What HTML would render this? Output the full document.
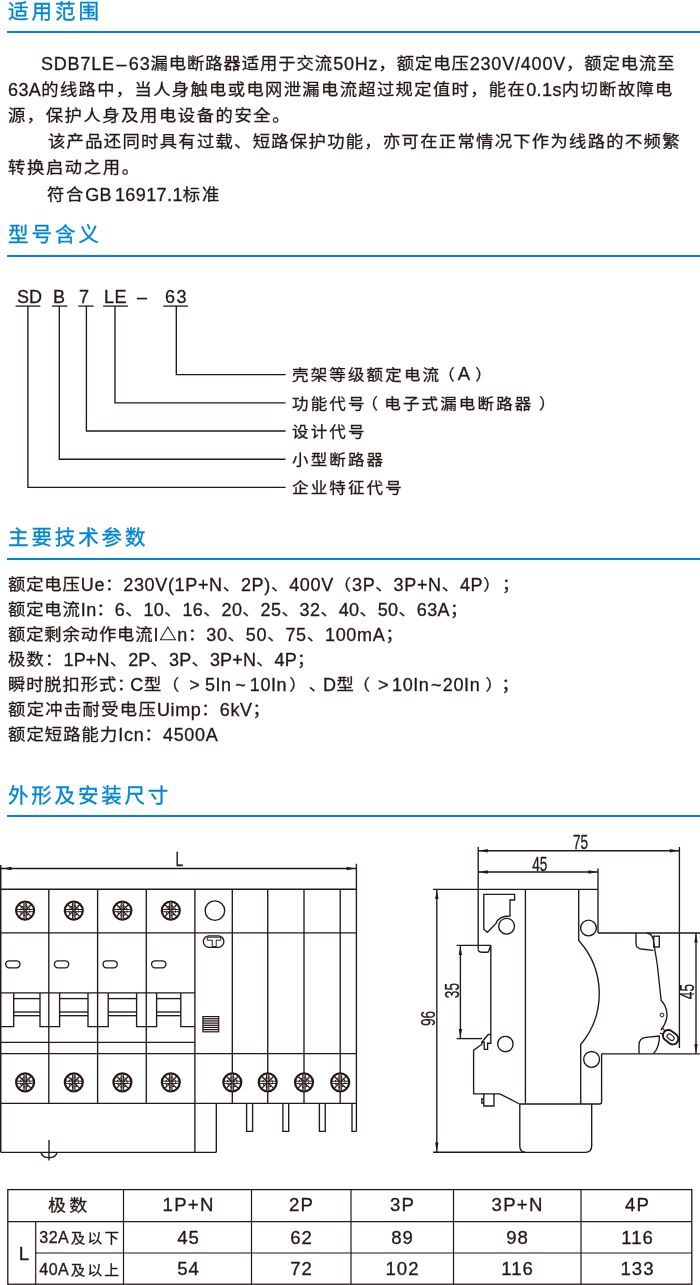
<!DOCTYPE html>
<html lang="zh-CN">
<head>
<meta charset="utf-8">
<title>SDB7LE-63 漏电断路器</title>
<style>
html,body{margin:0;padding:0;background:#fff}
body{position:relative;width:700px;height:1285px;overflow:hidden;color:#231815;font-family:"Liberation Sans","Noto Sans CJK SC",sans-serif}
.t{position:absolute;white-space:nowrap;line-height:24px;height:24px;will-change:transform;-webkit-text-stroke:0.3px #231815}
.h{color:#0086d1;-webkit-text-stroke:0.35px #0086d1}
.c{text-align:center}
.sc{margin-left:0.6px}
.rule{position:absolute;left:7px;right:0;height:2px;background:#0086d1}
svg{position:absolute;left:0;top:0;will-change:transform}
svg *{fill:none;stroke:#231815;stroke-width:1.35}
svg .f{fill:#231815;stroke:none}
svg .w{fill:#fff;stroke:none}
svg text.d{fill:#231815;stroke:#231815;stroke-width:0.3px;font-family:"Liberation Sans",sans-serif}
</style>
</head>
<body>
<svg width="700" height="1285" viewBox="0 0 700 1285">
<line x1="15.6" y1="306.1" x2="40.3" y2="306.1" style="stroke-width:1.3"/>
<line x1="51.9" y1="306.1" x2="67.4" y2="306.1" style="stroke-width:1.3"/>
<line x1="78.3" y1="306.1" x2="93.6" y2="306.1" style="stroke-width:1.3"/>
<line x1="103.1" y1="306.1" x2="127.9" y2="306.1" style="stroke-width:1.3"/>
<line x1="163.3" y1="306.1" x2="187.9" y2="306.1" style="stroke-width:1.3"/>
<polyline points="27.9,306 27.9,487.4 285.6,487.4"/>
<polyline points="59.3,306 59.3,459.2 285.6,459.2"/>
<polyline points="86.4,306 86.4,431 285.6,431"/>
<polyline points="115,306 115,402.8 285.6,402.8"/>
<polyline points="176.3,306 176.3,374.6 285.6,374.6"/>
<line x1="0.7" y1="865" x2="0.7" y2="1152.3" style="stroke-width:1.5"/>
<line x1="356.4" y1="863.8" x2="356.4" y2="1131.4"/>
<line x1="0.7" y1="868.5" x2="356.4" y2="868.5"/>
<polygon class="f" points="2.5,868.5 11.5,866.8 11.5,870.2"/>
<polygon class="f" points="355.6,868.5 346.6,866.8 346.6,870.2"/>
<line x1="0.7" y1="889.2" x2="356.4" y2="889.2"/>
<line x1="0.7" y1="932.8" x2="356.4" y2="932.8"/>
<line x1="0.7" y1="992.9" x2="194.9" y2="992.9"/>
<line x1="0.7" y1="1042.3" x2="194.9" y2="1042.3"/>
<line x1="0.7" y1="1053.6" x2="356.4" y2="1053.6"/>
<line x1="0.7" y1="1103.4" x2="356.4" y2="1103.4"/>
<line x1="0.7" y1="1152.3" x2="216.3" y2="1152.3"/>
<line x1="216.3" y1="1103.4" x2="216.3" y2="1152.3"/>
<line x1="48.8" y1="889.2" x2="48.8" y2="1103.4"/>
<line x1="97.6" y1="889.2" x2="97.6" y2="1103.4"/>
<line x1="146.3" y1="889.2" x2="146.3" y2="1103.4"/>
<line x1="194.9" y1="889.2" x2="194.9" y2="1152.3"/>
<line x1="232.3" y1="889.2" x2="232.3" y2="1103.4"/>
<line x1="267.7" y1="889.2" x2="267.7" y2="1103.4"/>
<line x1="304.0" y1="889.2" x2="304.0" y2="1103.4"/>
<line x1="340.2" y1="889.2" x2="340.2" y2="1103.4"/>
<circle cx="25.1" cy="910.6" r="9.0" style="stroke-width:2.2"/>
<line x1="25.1" y1="902.4" x2="25.1" y2="918.8000000000001" style="stroke-width:2.4;stroke:#8d8683"/>
<line x1="23.85" y1="902.4" x2="23.85" y2="918.8000000000001" style="stroke-width:0.9"/>
<line x1="26.35" y1="902.4" x2="26.35" y2="918.8000000000001" style="stroke-width:0.9"/>
<line x1="16.900000000000002" y1="909.5" x2="33.3" y2="909.5" style="stroke-width:0.95"/>
<line x1="16.900000000000002" y1="911.7" x2="33.3" y2="911.7" style="stroke-width:0.95"/>
<line x1="26.16" y1="911.66" x2="30.90" y2="916.40" style="stroke-width:1.3"/>
<line x1="24.04" y1="911.66" x2="19.30" y2="916.40" style="stroke-width:1.3"/>
<line x1="24.04" y1="909.54" x2="19.30" y2="904.80" style="stroke-width:1.3"/>
<line x1="26.16" y1="909.54" x2="30.90" y2="904.80" style="stroke-width:1.3"/>
<circle cx="25.1" cy="910.6" r="4.8" style="stroke-width:1.1;stroke-dasharray:1.9 1.87"/>
<circle cx="25.1" cy="1082.3" r="9.0" style="stroke-width:2.2"/>
<line x1="25.1" y1="1074.1" x2="25.1" y2="1090.5" style="stroke-width:2.4;stroke:#8d8683"/>
<line x1="23.85" y1="1074.1" x2="23.85" y2="1090.5" style="stroke-width:0.9"/>
<line x1="26.35" y1="1074.1" x2="26.35" y2="1090.5" style="stroke-width:0.9"/>
<line x1="16.900000000000002" y1="1081.2" x2="33.3" y2="1081.2" style="stroke-width:0.95"/>
<line x1="16.900000000000002" y1="1083.3999999999999" x2="33.3" y2="1083.3999999999999" style="stroke-width:0.95"/>
<line x1="26.16" y1="1083.36" x2="30.90" y2="1088.10" style="stroke-width:1.3"/>
<line x1="24.04" y1="1083.36" x2="19.30" y2="1088.10" style="stroke-width:1.3"/>
<line x1="24.04" y1="1081.24" x2="19.30" y2="1076.50" style="stroke-width:1.3"/>
<line x1="26.16" y1="1081.24" x2="30.90" y2="1076.50" style="stroke-width:1.3"/>
<circle cx="25.1" cy="1082.3" r="4.8" style="stroke-width:1.1;stroke-dasharray:1.9 1.87"/>
<circle cx="73.8" cy="910.6" r="9.0" style="stroke-width:2.2"/>
<line x1="73.8" y1="902.4" x2="73.8" y2="918.8000000000001" style="stroke-width:2.4;stroke:#8d8683"/>
<line x1="72.55" y1="902.4" x2="72.55" y2="918.8000000000001" style="stroke-width:0.9"/>
<line x1="75.05" y1="902.4" x2="75.05" y2="918.8000000000001" style="stroke-width:0.9"/>
<line x1="65.6" y1="909.5" x2="82.0" y2="909.5" style="stroke-width:0.95"/>
<line x1="65.6" y1="911.7" x2="82.0" y2="911.7" style="stroke-width:0.95"/>
<line x1="74.86" y1="911.66" x2="79.60" y2="916.40" style="stroke-width:1.3"/>
<line x1="72.74" y1="911.66" x2="68.00" y2="916.40" style="stroke-width:1.3"/>
<line x1="72.74" y1="909.54" x2="68.00" y2="904.80" style="stroke-width:1.3"/>
<line x1="74.86" y1="909.54" x2="79.60" y2="904.80" style="stroke-width:1.3"/>
<circle cx="73.8" cy="910.6" r="4.8" style="stroke-width:1.1;stroke-dasharray:1.9 1.87"/>
<circle cx="73.8" cy="1082.3" r="9.0" style="stroke-width:2.2"/>
<line x1="73.8" y1="1074.1" x2="73.8" y2="1090.5" style="stroke-width:2.4;stroke:#8d8683"/>
<line x1="72.55" y1="1074.1" x2="72.55" y2="1090.5" style="stroke-width:0.9"/>
<line x1="75.05" y1="1074.1" x2="75.05" y2="1090.5" style="stroke-width:0.9"/>
<line x1="65.6" y1="1081.2" x2="82.0" y2="1081.2" style="stroke-width:0.95"/>
<line x1="65.6" y1="1083.3999999999999" x2="82.0" y2="1083.3999999999999" style="stroke-width:0.95"/>
<line x1="74.86" y1="1083.36" x2="79.60" y2="1088.10" style="stroke-width:1.3"/>
<line x1="72.74" y1="1083.36" x2="68.00" y2="1088.10" style="stroke-width:1.3"/>
<line x1="72.74" y1="1081.24" x2="68.00" y2="1076.50" style="stroke-width:1.3"/>
<line x1="74.86" y1="1081.24" x2="79.60" y2="1076.50" style="stroke-width:1.3"/>
<circle cx="73.8" cy="1082.3" r="4.8" style="stroke-width:1.1;stroke-dasharray:1.9 1.87"/>
<circle cx="122.4" cy="910.6" r="9.0" style="stroke-width:2.2"/>
<line x1="122.4" y1="902.4" x2="122.4" y2="918.8000000000001" style="stroke-width:2.4;stroke:#8d8683"/>
<line x1="121.15" y1="902.4" x2="121.15" y2="918.8000000000001" style="stroke-width:0.9"/>
<line x1="123.65" y1="902.4" x2="123.65" y2="918.8000000000001" style="stroke-width:0.9"/>
<line x1="114.2" y1="909.5" x2="130.6" y2="909.5" style="stroke-width:0.95"/>
<line x1="114.2" y1="911.7" x2="130.6" y2="911.7" style="stroke-width:0.95"/>
<line x1="123.46" y1="911.66" x2="128.20" y2="916.40" style="stroke-width:1.3"/>
<line x1="121.34" y1="911.66" x2="116.60" y2="916.40" style="stroke-width:1.3"/>
<line x1="121.34" y1="909.54" x2="116.60" y2="904.80" style="stroke-width:1.3"/>
<line x1="123.46" y1="909.54" x2="128.20" y2="904.80" style="stroke-width:1.3"/>
<circle cx="122.4" cy="910.6" r="4.8" style="stroke-width:1.1;stroke-dasharray:1.9 1.87"/>
<circle cx="122.4" cy="1082.3" r="9.0" style="stroke-width:2.2"/>
<line x1="122.4" y1="1074.1" x2="122.4" y2="1090.5" style="stroke-width:2.4;stroke:#8d8683"/>
<line x1="121.15" y1="1074.1" x2="121.15" y2="1090.5" style="stroke-width:0.9"/>
<line x1="123.65" y1="1074.1" x2="123.65" y2="1090.5" style="stroke-width:0.9"/>
<line x1="114.2" y1="1081.2" x2="130.6" y2="1081.2" style="stroke-width:0.95"/>
<line x1="114.2" y1="1083.3999999999999" x2="130.6" y2="1083.3999999999999" style="stroke-width:0.95"/>
<line x1="123.46" y1="1083.36" x2="128.20" y2="1088.10" style="stroke-width:1.3"/>
<line x1="121.34" y1="1083.36" x2="116.60" y2="1088.10" style="stroke-width:1.3"/>
<line x1="121.34" y1="1081.24" x2="116.60" y2="1076.50" style="stroke-width:1.3"/>
<line x1="123.46" y1="1081.24" x2="128.20" y2="1076.50" style="stroke-width:1.3"/>
<circle cx="122.4" cy="1082.3" r="4.8" style="stroke-width:1.1;stroke-dasharray:1.9 1.87"/>
<circle cx="170.8" cy="910.6" r="9.0" style="stroke-width:2.2"/>
<line x1="170.8" y1="902.4" x2="170.8" y2="918.8000000000001" style="stroke-width:2.4;stroke:#8d8683"/>
<line x1="169.55" y1="902.4" x2="169.55" y2="918.8000000000001" style="stroke-width:0.9"/>
<line x1="172.05" y1="902.4" x2="172.05" y2="918.8000000000001" style="stroke-width:0.9"/>
<line x1="162.60000000000002" y1="909.5" x2="179.0" y2="909.5" style="stroke-width:0.95"/>
<line x1="162.60000000000002" y1="911.7" x2="179.0" y2="911.7" style="stroke-width:0.95"/>
<line x1="171.86" y1="911.66" x2="176.60" y2="916.40" style="stroke-width:1.3"/>
<line x1="169.74" y1="911.66" x2="165.00" y2="916.40" style="stroke-width:1.3"/>
<line x1="169.74" y1="909.54" x2="165.00" y2="904.80" style="stroke-width:1.3"/>
<line x1="171.86" y1="909.54" x2="176.60" y2="904.80" style="stroke-width:1.3"/>
<circle cx="170.8" cy="910.6" r="4.8" style="stroke-width:1.1;stroke-dasharray:1.9 1.87"/>
<circle cx="170.8" cy="1082.3" r="9.0" style="stroke-width:2.2"/>
<line x1="170.8" y1="1074.1" x2="170.8" y2="1090.5" style="stroke-width:2.4;stroke:#8d8683"/>
<line x1="169.55" y1="1074.1" x2="169.55" y2="1090.5" style="stroke-width:0.9"/>
<line x1="172.05" y1="1074.1" x2="172.05" y2="1090.5" style="stroke-width:0.9"/>
<line x1="162.60000000000002" y1="1081.2" x2="179.0" y2="1081.2" style="stroke-width:0.95"/>
<line x1="162.60000000000002" y1="1083.3999999999999" x2="179.0" y2="1083.3999999999999" style="stroke-width:0.95"/>
<line x1="171.86" y1="1083.36" x2="176.60" y2="1088.10" style="stroke-width:1.3"/>
<line x1="169.74" y1="1083.36" x2="165.00" y2="1088.10" style="stroke-width:1.3"/>
<line x1="169.74" y1="1081.24" x2="165.00" y2="1076.50" style="stroke-width:1.3"/>
<line x1="171.86" y1="1081.24" x2="176.60" y2="1076.50" style="stroke-width:1.3"/>
<circle cx="170.8" cy="1082.3" r="4.8" style="stroke-width:1.1;stroke-dasharray:1.9 1.87"/>
<circle class="w" cx="232.3" cy="1082.3" r="9.2" stroke="none"/>
<circle cx="232.3" cy="1082.3" r="9.0" style="stroke-width:2.2"/>
<line x1="232.3" y1="1074.1" x2="232.3" y2="1090.5" style="stroke-width:2.4;stroke:#8d8683"/>
<line x1="231.05" y1="1074.1" x2="231.05" y2="1090.5" style="stroke-width:0.9"/>
<line x1="233.55" y1="1074.1" x2="233.55" y2="1090.5" style="stroke-width:0.9"/>
<line x1="224.10000000000002" y1="1081.2" x2="240.5" y2="1081.2" style="stroke-width:0.95"/>
<line x1="224.10000000000002" y1="1083.3999999999999" x2="240.5" y2="1083.3999999999999" style="stroke-width:0.95"/>
<line x1="233.36" y1="1083.36" x2="238.10" y2="1088.10" style="stroke-width:1.3"/>
<line x1="231.24" y1="1083.36" x2="226.50" y2="1088.10" style="stroke-width:1.3"/>
<line x1="231.24" y1="1081.24" x2="226.50" y2="1076.50" style="stroke-width:1.3"/>
<line x1="233.36" y1="1081.24" x2="238.10" y2="1076.50" style="stroke-width:1.3"/>
<circle cx="232.3" cy="1082.3" r="4.8" style="stroke-width:1.1;stroke-dasharray:1.9 1.87"/>
<circle class="w" cx="267.7" cy="1082.3" r="9.2" stroke="none"/>
<circle cx="267.7" cy="1082.3" r="9.0" style="stroke-width:2.2"/>
<line x1="267.7" y1="1074.1" x2="267.7" y2="1090.5" style="stroke-width:2.4;stroke:#8d8683"/>
<line x1="266.45" y1="1074.1" x2="266.45" y2="1090.5" style="stroke-width:0.9"/>
<line x1="268.95" y1="1074.1" x2="268.95" y2="1090.5" style="stroke-width:0.9"/>
<line x1="259.5" y1="1081.2" x2="275.9" y2="1081.2" style="stroke-width:0.95"/>
<line x1="259.5" y1="1083.3999999999999" x2="275.9" y2="1083.3999999999999" style="stroke-width:0.95"/>
<line x1="268.76" y1="1083.36" x2="273.50" y2="1088.10" style="stroke-width:1.3"/>
<line x1="266.64" y1="1083.36" x2="261.90" y2="1088.10" style="stroke-width:1.3"/>
<line x1="266.64" y1="1081.24" x2="261.90" y2="1076.50" style="stroke-width:1.3"/>
<line x1="268.76" y1="1081.24" x2="273.50" y2="1076.50" style="stroke-width:1.3"/>
<circle cx="267.7" cy="1082.3" r="4.8" style="stroke-width:1.1;stroke-dasharray:1.9 1.87"/>
<circle class="w" cx="304.0" cy="1082.3" r="9.2" stroke="none"/>
<circle cx="304.0" cy="1082.3" r="9.0" style="stroke-width:2.2"/>
<line x1="304.0" y1="1074.1" x2="304.0" y2="1090.5" style="stroke-width:2.4;stroke:#8d8683"/>
<line x1="302.75" y1="1074.1" x2="302.75" y2="1090.5" style="stroke-width:0.9"/>
<line x1="305.25" y1="1074.1" x2="305.25" y2="1090.5" style="stroke-width:0.9"/>
<line x1="295.8" y1="1081.2" x2="312.2" y2="1081.2" style="stroke-width:0.95"/>
<line x1="295.8" y1="1083.3999999999999" x2="312.2" y2="1083.3999999999999" style="stroke-width:0.95"/>
<line x1="305.06" y1="1083.36" x2="309.80" y2="1088.10" style="stroke-width:1.3"/>
<line x1="302.94" y1="1083.36" x2="298.20" y2="1088.10" style="stroke-width:1.3"/>
<line x1="302.94" y1="1081.24" x2="298.20" y2="1076.50" style="stroke-width:1.3"/>
<line x1="305.06" y1="1081.24" x2="309.80" y2="1076.50" style="stroke-width:1.3"/>
<circle cx="304.0" cy="1082.3" r="4.8" style="stroke-width:1.1;stroke-dasharray:1.9 1.87"/>
<circle class="w" cx="340.2" cy="1082.3" r="9.2" stroke="none"/>
<circle cx="340.2" cy="1082.3" r="9.0" style="stroke-width:2.2"/>
<line x1="340.2" y1="1074.1" x2="340.2" y2="1090.5" style="stroke-width:2.4;stroke:#8d8683"/>
<line x1="338.95" y1="1074.1" x2="338.95" y2="1090.5" style="stroke-width:0.9"/>
<line x1="341.45" y1="1074.1" x2="341.45" y2="1090.5" style="stroke-width:0.9"/>
<line x1="332.0" y1="1081.2" x2="348.4" y2="1081.2" style="stroke-width:0.95"/>
<line x1="332.0" y1="1083.3999999999999" x2="348.4" y2="1083.3999999999999" style="stroke-width:0.95"/>
<line x1="341.26" y1="1083.36" x2="346.00" y2="1088.10" style="stroke-width:1.3"/>
<line x1="339.14" y1="1083.36" x2="334.40" y2="1088.10" style="stroke-width:1.3"/>
<line x1="339.14" y1="1081.24" x2="334.40" y2="1076.50" style="stroke-width:1.3"/>
<line x1="341.26" y1="1081.24" x2="346.00" y2="1076.50" style="stroke-width:1.3"/>
<circle cx="340.2" cy="1082.3" r="4.8" style="stroke-width:1.1;stroke-dasharray:1.9 1.87"/>
<rect x="5.7" y="960.8" width="14.3" height="7" rx="3.5"/>
<rect x="54.4" y="960.8" width="14.3" height="7" rx="3.5"/>
<rect x="103.0" y="960.8" width="14.3" height="7" rx="3.5"/>
<rect x="151.6" y="960.8" width="14.3" height="7" rx="3.5"/>
<polyline points="0.7,1026.6 13.7,1026.6 13.7,992.9"/>
<polyline points="40.0,992.9 40.0,1026.6 48.8,1026.6"/>
<line x1="13.7" y1="998.6" x2="40.0" y2="998.6"/>
<line x1="13.7" y1="1012.0" x2="40.0" y2="1012.0"/>
<line x1="13.7" y1="1015.7" x2="40.0" y2="1015.7"/>
<polyline points="48.8,1026.6 59.6,1026.6 59.6,992.9"/>
<polyline points="88.0,992.9 88.0,1026.6 97.6,1026.6"/>
<line x1="59.6" y1="998.6" x2="88.0" y2="998.6"/>
<line x1="59.6" y1="1012.0" x2="88.0" y2="1012.0"/>
<line x1="59.6" y1="1015.7" x2="88.0" y2="1015.7"/>
<polyline points="97.6,1026.6 108.2,1026.6 108.2,992.9"/>
<polyline points="136.6,992.9 136.6,1026.6 146.3,1026.6"/>
<line x1="108.2" y1="998.6" x2="136.6" y2="998.6"/>
<line x1="108.2" y1="1012.0" x2="136.6" y2="1012.0"/>
<line x1="108.2" y1="1015.7" x2="136.6" y2="1015.7"/>
<polyline points="146.3,1026.6 156.6,1026.6 156.6,992.9"/>
<polyline points="180.8,992.9 180.8,1026.6 194.9,1026.6"/>
<line x1="156.6" y1="998.6" x2="180.8" y2="998.6"/>
<line x1="156.6" y1="1012.0" x2="180.8" y2="1012.0"/>
<line x1="156.6" y1="1015.7" x2="180.8" y2="1015.7"/>
<circle cx="214.9" cy="910.6" r="9.8"/>
<rect x="203.3" y="935.8" width="20.6" height="11.5" rx="5.75" style="stroke-width:1.3"/>
<path d="M207.2 937.2H220.8V940.2H216.2V946.6H212.2V940.2H207.2Z" style="stroke-width:1.0"/>
<rect x="202.9" y="1016.6" width="15.8" height="15.2" style="stroke-width:1.2"/>
<line x1="202.9" y1="1018.77" x2="218.7" y2="1018.77" style="stroke-width:1.25"/>
<line x1="202.9" y1="1020.94" x2="218.7" y2="1020.94" style="stroke-width:1.25"/>
<line x1="202.9" y1="1023.11" x2="218.7" y2="1023.11" style="stroke-width:1.25"/>
<line x1="202.9" y1="1025.29" x2="218.7" y2="1025.29" style="stroke-width:1.25"/>
<line x1="202.9" y1="1027.46" x2="218.7" y2="1027.46" style="stroke-width:1.25"/>
<line x1="202.9" y1="1029.63" x2="218.7" y2="1029.63" style="stroke-width:1.25"/>
<polyline points="246.6,1103.4 246.6,1131.4 252.6,1131.4 252.6,1103.4"/>
<polyline points="282.9,1103.4 282.9,1131.4 288.7,1131.4 288.7,1103.4"/>
<polyline points="319.4,1103.4 319.4,1131.4 325.2,1131.4 325.2,1103.4"/>
<polyline points="352,1103.4 352,1131.4 356.4,1131.4"/>
<line x1="49" y1="1140" x2="49" y2="1160.6"/>
<path d="M41,1152.3 Q42,1157.6 49,1157.6 Q56,1157.6 57,1152.3"/>
<line x1="478.2" y1="847" x2="478.2" y2="949.6"/>
<line x1="679.4" y1="847" x2="679.4" y2="1048"/>
<line x1="478.2" y1="850.7" x2="679.4" y2="850.7"/>
<polygon class="f" points="478.8,850.7 487.8,849.0 487.8,852.4"/>
<polygon class="f" points="678.8,850.7 669.8,849.0 669.8,852.4"/>
<line x1="478.2" y1="872.0" x2="598" y2="872.0"/>
<polygon class="f" points="478.8,872.0 487.8,870.3 487.8,873.7"/>
<polygon class="f" points="597.4,872.0 588.4,870.3 588.4,873.7"/>
<line x1="598" y1="868.5" x2="598" y2="933"/>
<line x1="433" y1="889.4" x2="598" y2="889.4"/>
<line x1="436.8" y1="889.4" x2="436.8" y2="1152.2"/>
<polygon class="f" points="436.8,890.0 435.1,899.0 438.5,899.0"/>
<polygon class="f" points="436.8,1151.6 435.1,1142.6 438.5,1142.6"/>
<line x1="433" y1="1152.2" x2="525" y2="1152.2"/>
<line x1="460.4" y1="945.3" x2="460.4" y2="1038.6"/>
<polygon class="f" points="460.4,945.9 458.7,954.9 462.1,954.9"/>
<polygon class="f" points="460.4,1038.0 458.7,1029.0 462.1,1029.0"/>
<line x1="456.6" y1="945.3" x2="490.8" y2="945.3"/>
<line x1="456.6" y1="1038.6" x2="482" y2="1038.6"/>
<line x1="598" y1="933" x2="700" y2="933"/>
<line x1="601.6" y1="1053.8" x2="700" y2="1053.8"/>
<line x1="696" y1="933" x2="696" y2="1053.8"/>
<polygon class="f" points="696.0,933.6 694.3,942.6 697.7,942.6"/>
<polygon class="f" points="696.0,1053.2 694.3,1044.2 697.7,1044.2"/>
<path d="M478.2,949.6 Q478.6,952.2 482.5,952.2 H487.2 Q488.6,952.2 489,950.5 L490.8,945.3 V1034.5 L488.2,1034.5 L481.8,1042.2 V1044.5 L473.6,1050.2 V1093.8 H499.8 L519.5,1104"/>
<path d="M481.8,1042.2 H484.2 V1049.3 H487.6 V1043.2 H490.8 V1034.5"/>
<path d="M483.8,1093.8 V1106 H494 V1093.8 M483.8,1099 H481.8 V1103 H483.8"/>
<path d="M483.8,894.3 H514.6 V900 H510 V916 Q498.5,916 496,923.5 L487.4,932.3 L483.8,929.2 Z"/>
<circle cx="506.6" cy="926.2" r="7.9"/>
<circle cx="505.4" cy="1044" r="7.7"/>
<circle cx="588.5" cy="928" r="7.9"/>
<circle cx="591.6" cy="1059.4" r="7.9"/>
<line x1="525.4" y1="889.4" x2="525.4" y2="1104"/>
<path d="M578.7,889.4 V940.5 A79,79 0 0 1 580.7,1044.5 V1104"/>
<path d="M519.5,1104 H599.6 Q601.6,1104 601.6,1102 V1053.8"/>
<path d="M519.8,1104 V1146 Q519.8,1152.3 526,1152.3 H585.5 Q591.7,1152.3 591.7,1146 V1104"/>
<path d="M636,933 V943.5 Q636,948 641,949 L653.5,950.4"/>
<path d="M647,933 Q652,934 653.2,939 Q658,965 660,990 L661.2,1000.5 Q666.5,1006 667,1014 Q667.2,1022 661,1030"/>
<rect x="653.7" y="936.2" width="5.6" height="10.8"/>
<circle cx="662" cy="1015" r="1.9" style="stroke-width:1.0"/>
<path d="M639,1053.8 V1045 Q639,1038.2 646,1037.4 L659.4,1036 Q659.5,1047 653.5,1053.8"/>
<g transform="translate(670.6,1037.2) rotate(38)"><rect x="-8.3" y="-5.5" width="16.6" height="11" rx="5.5" style="stroke-width:1.9"/><rect x="-3.9" y="-2.3" width="7.8" height="4.6" rx="2.3" style="stroke-width:1.1"/><path d="M-7.6,-1.6 L-12,-2.2 M-7.2,2 L-11,3.4" style="stroke-width:1.1"/></g>
<text class="d" font-size="19.5" text-anchor="middle" transform="translate(179.3,859.0) rotate(0) scale(0.7,1)" x="0" y="6.98">L</text>
<text class="d" font-size="19.5" text-anchor="middle" transform="translate(580.6,842.5) rotate(0) scale(0.7,1)" x="0" y="6.98">75</text>
<text class="d" font-size="19.5" text-anchor="middle" transform="translate(539.8,864.2) rotate(0) scale(0.7,1)" x="0" y="6.98">45</text>
<text class="d" font-size="19.5" text-anchor="middle" transform="translate(428.2,1018.5) rotate(-90) scale(0.7,1)" x="0" y="6.98">96</text>
<text class="d" font-size="19.5" text-anchor="middle" transform="translate(451.6,990.6) rotate(-90) scale(0.7,1)" x="0" y="6.98">35</text>
<text class="d" font-size="19.5" text-anchor="middle" transform="translate(687.4,991.6) rotate(-90) scale(0.7,1)" x="0" y="6.98">45</text>
<rect x="7.8" y="1189.6" width="684.0" height="94.6" style="stroke-width:1.3"/>
<line x1="7.8" y1="1221.6" x2="691.8" y2="1221.6" style="stroke-width:1.2"/>
<line x1="35.7" y1="1253" x2="691.8" y2="1253" style="stroke-width:1.2"/>
<line x1="35.7" y1="1221.6" x2="35.7" y2="1284.2" style="stroke-width:1.2"/>
<line x1="123.5" y1="1189.6" x2="123.5" y2="1284.2" style="stroke-width:1.2"/>
<line x1="251.5" y1="1189.6" x2="251.5" y2="1284.2" style="stroke-width:1.2"/>
<line x1="351.0" y1="1189.6" x2="351.0" y2="1284.2" style="stroke-width:1.2"/>
<line x1="453.5" y1="1189.6" x2="453.5" y2="1284.2" style="stroke-width:1.2"/>
<line x1="581.0" y1="1189.6" x2="581.0" y2="1284.2" style="stroke-width:1.2"/>
</svg>
<div class="t h" id="h1" style="left:8.00px;top:-0.27px;font-size:20.5px;letter-spacing:3.000px;">适用范围</div>
<div class="rule" style="top:30.85px"></div>
<div class="t" id="a1" style="left:41.20px;top:51.66px;font-size:18px;letter-spacing:0.800px;">SDB7LE<span style="margin:0 1.6px">–</span>63<span style="font-size:17.3px;letter-spacing:0.986px;display:inline-block;transform:scaleY(0.9);transform-origin:50% 11.4px">漏电断路器适用于交流</span>50Hz<span style="font-size:17.3px;letter-spacing:0.986px;display:inline-block;transform:scaleY(0.9);transform-origin:50% 11.4px">，额定电压</span>230V/400V<span style="font-size:17.3px;letter-spacing:0.986px;display:inline-block;transform:scaleY(0.9);transform-origin:50% 11.4px">，额定电流至</span></div>
<div class="t" id="a2" style="left:7.60px;top:77.86px;font-size:18px;letter-spacing:0.400px;">63A<span style="font-size:17.3px;letter-spacing:1.369px;display:inline-block;transform:scaleY(0.9);transform-origin:50% 11.4px">的线路中，当人身触电或电网泄漏电流超过规定值时，能在</span>0.1s<span style="font-size:17.3px;letter-spacing:1.369px;display:inline-block;transform:scaleY(0.9);transform-origin:50% 11.4px">内切断故障电</span></div>
<div class="t" id="a3" style="left:8.20px;top:104.06px;font-size:18px;letter-spacing:0.400px;"><span style="font-size:17.3px;letter-spacing:1.585px;display:inline-block;transform:scaleY(0.9);transform-origin:50% 11.4px">源，保护人身及用电设备的安全。</span></div>
<div class="t" id="a4" style="left:47.80px;top:130.26px;font-size:18px;letter-spacing:0.400px;"><span style="font-size:17.3px;letter-spacing:1.329px;display:inline-block;transform:scaleY(0.9);transform-origin:50% 11.4px">该产品还同时具有过载、短路保护功能，亦可在正常情况下作为线路的不频繁</span></div>
<div class="t" id="a5" style="left:8.00px;top:156.46px;font-size:18px;letter-spacing:0.400px;"><span style="font-size:17.3px;letter-spacing:1.659px;display:inline-block;transform:scaleY(0.9);transform-origin:50% 11.4px">转换启动之用。</span></div>
<div class="t" id="a6" style="left:47.00px;top:182.66px;font-size:18px;letter-spacing:0.400px;word-spacing:-2.5px;"><span style="font-size:17.3px;letter-spacing:1.821px;display:inline-block;transform:scaleY(0.9);transform-origin:50% 11.4px">符合</span>GB 16917.1<span style="font-size:17.3px;letter-spacing:1.821px;display:inline-block;transform:scaleY(0.9);transform-origin:50% 11.4px">标准</span></div>
<div class="t h" id="h2" style="left:8.00px;top:223.23px;font-size:20.5px;letter-spacing:3.000px;">型号含义</div>
<div class="rule" style="top:255.00px"></div>
<div class="t" id="c1" style="left:16.82px;top:284.86px;font-size:18px;letter-spacing:-0.040px;">SD</div>
<div class="t" id="c2" style="left:53.04px;top:284.86px;font-size:18px;letter-spacing:0.600px;">B</div>
<div class="t" id="c3" style="left:78.56px;top:284.86px;font-size:18px;letter-spacing:0.600px;">7</div>
<div class="t" id="c4" style="left:104.00px;top:284.86px;font-size:18px;letter-spacing:0.600px;">LE</div>
<div class="t" id="c5" style="left:137.48px;top:284.86px;font-size:18px;letter-spacing:0.600px;">–</div>
<div class="t" id="c6" style="left:164.86px;top:284.86px;font-size:18px;letter-spacing:1.560px;">63</div>
<div class="t" id="l1" style="left:291.70px;top:362.38px;font-size:16.5px;letter-spacing:2.150px;"><span style="font-size:16.5px;display:inline-block;transform:scaleY(0.93);transform-origin:50% 11.4px">壳架等级额定电流</span><span style="margin-left:-3px"><span style="font-size:16.5px;display:inline-block;transform:scaleY(0.93);transform-origin:50% 11.4px">（</span></span><span style="font-size:18.5px;margin-left:1px">A</span><span style="margin-left:3px"><span style="font-size:16.5px;display:inline-block;transform:scaleY(0.93);transform-origin:50% 11.4px">）</span></span></div>
<div class="t" id="l2" style="left:291.70px;top:390.88px;font-size:16.5px;letter-spacing:2.150px;"><span style="font-size:16.5px;display:inline-block;transform:scaleY(0.93);transform-origin:50% 11.4px">功能代号</span><span style="margin-left:-5px"><span style="font-size:16.5px;display:inline-block;transform:scaleY(0.93);transform-origin:50% 11.4px">（</span></span><span style="margin-left:4px"><span style="font-size:16.5px;display:inline-block;transform:scaleY(0.93);transform-origin:50% 11.4px">电</span></span><span style="font-size:16.5px;display:inline-block;transform:scaleY(0.93);transform-origin:50% 11.4px">子式漏电断路</span><span style="margin-right:5.5px"><span style="font-size:16.5px;display:inline-block;transform:scaleY(0.93);transform-origin:50% 11.4px">器</span></span><span style="font-size:16.5px;display:inline-block;transform:scaleY(0.93);transform-origin:50% 11.4px">）</span></div>
<div class="t" id="l3" style="left:291.70px;top:419.08px;font-size:16.5px;letter-spacing:2.150px;"><span style="font-size:16.5px;display:inline-block;transform:scaleY(0.93);transform-origin:50% 11.4px">设计代号</span></div>
<div class="t" id="l4" style="left:291.70px;top:447.28px;font-size:16.5px;letter-spacing:2.150px;"><span style="font-size:16.5px;display:inline-block;transform:scaleY(0.93);transform-origin:50% 11.4px">小型断路器</span></div>
<div class="t" id="l5" style="left:291.70px;top:475.48px;font-size:16.5px;letter-spacing:2.150px;"><span style="font-size:16.5px;display:inline-block;transform:scaleY(0.93);transform-origin:50% 11.4px">企业特征代号</span></div>
<div class="t h" id="h3" style="left:8.00px;top:526.13px;font-size:20.5px;letter-spacing:2.900px;">主要技术参数</div>
<div class="rule" style="top:558.00px"></div>
<div class="t" id="p1" style="left:7.80px;top:573.36px;font-size:18px;letter-spacing:0.660px;"><span style="font-size:17.3px;letter-spacing:0.9px;display:inline-block;transform:scaleY(0.9);transform-origin:50% 11.4px">额定电压</span>Ue<span style="font-size:17.3px;letter-spacing:0.9px;display:inline-block;transform:scaleY(0.9);transform-origin:50% 11.4px">：</span>230V(1P+N<span style="font-size:17.3px;letter-spacing:0.9px;display:inline-block;transform:scaleY(0.9);transform-origin:50% 11.4px">、</span>2P)<span style="font-size:17.3px;letter-spacing:0.9px;display:inline-block;transform:scaleY(0.9);transform-origin:50% 11.4px">、</span>400V<span style="font-size:17.3px;letter-spacing:0.9px;display:inline-block;transform:scaleY(0.9);transform-origin:50% 11.4px">（</span>3P<span style="font-size:17.3px;letter-spacing:0.9px;display:inline-block;transform:scaleY(0.9);transform-origin:50% 11.4px">、</span>3P+N<span style="font-size:17.3px;letter-spacing:0.9px;display:inline-block;transform:scaleY(0.9);transform-origin:50% 11.4px">、</span>4P<span style="font-size:17.3px;letter-spacing:0.9px;display:inline-block;transform:scaleY(0.9);transform-origin:50% 11.4px">）</span><span class="sc"><span style="font-size:17.3px;letter-spacing:0.9px;display:inline-block;transform:scaleY(0.9);transform-origin:50% 11.4px">；</span></span></div>
<div class="t" id="p2" style="left:7.80px;top:598.36px;font-size:18px;letter-spacing:0.416px;"><span style="font-size:17.3px;letter-spacing:0.9px;display:inline-block;transform:scaleY(0.9);transform-origin:50% 11.4px">额定电流</span>In<span style="font-size:17.3px;letter-spacing:0.9px;display:inline-block;transform:scaleY(0.9);transform-origin:50% 11.4px">：</span>6<span style="font-size:17.3px;letter-spacing:0.9px;display:inline-block;transform:scaleY(0.9);transform-origin:50% 11.4px">、</span>10<span style="font-size:17.3px;letter-spacing:0.9px;display:inline-block;transform:scaleY(0.9);transform-origin:50% 11.4px">、</span>16<span style="font-size:17.3px;letter-spacing:0.9px;display:inline-block;transform:scaleY(0.9);transform-origin:50% 11.4px">、</span>20<span style="font-size:17.3px;letter-spacing:0.9px;display:inline-block;transform:scaleY(0.9);transform-origin:50% 11.4px">、</span>25<span style="font-size:17.3px;letter-spacing:0.9px;display:inline-block;transform:scaleY(0.9);transform-origin:50% 11.4px">、</span>32<span style="font-size:17.3px;letter-spacing:0.9px;display:inline-block;transform:scaleY(0.9);transform-origin:50% 11.4px">、</span>40<span style="font-size:17.3px;letter-spacing:0.9px;display:inline-block;transform:scaleY(0.9);transform-origin:50% 11.4px">、</span>50<span style="font-size:17.3px;letter-spacing:0.9px;display:inline-block;transform:scaleY(0.9);transform-origin:50% 11.4px">、</span>63A<span style="font-size:17.3px;letter-spacing:0.9px;display:inline-block;transform:scaleY(0.9);transform-origin:50% 11.4px">；</span></div>
<div class="t" id="p3" style="left:7.80px;top:623.36px;font-size:18px;letter-spacing:0.682px;"><span style="font-size:17.3px;letter-spacing:0.9px;display:inline-block;transform:scaleY(0.9);transform-origin:50% 11.4px">额定剩余动作电流</span>I<span style="font-size:17.3px;letter-spacing:0.9px;display:inline-block;transform:scaleY(0.9);transform-origin:50% 11.4px">△</span>n<span style="font-size:17.3px;letter-spacing:0.9px;display:inline-block;transform:scaleY(0.9);transform-origin:50% 11.4px">：</span>30<span style="font-size:17.3px;letter-spacing:0.9px;display:inline-block;transform:scaleY(0.9);transform-origin:50% 11.4px">、</span>50<span style="font-size:17.3px;letter-spacing:0.9px;display:inline-block;transform:scaleY(0.9);transform-origin:50% 11.4px">、</span>75<span style="font-size:17.3px;letter-spacing:0.9px;display:inline-block;transform:scaleY(0.9);transform-origin:50% 11.4px">、</span>100mA<span style="font-size:17.3px;letter-spacing:0.9px;display:inline-block;transform:scaleY(0.9);transform-origin:50% 11.4px">；</span></div>
<div class="t" id="p4" style="left:7.80px;top:648.36px;font-size:18px;letter-spacing:0.175px;"><span style="font-size:17.3px;letter-spacing:1.2px;display:inline-block;transform:scaleY(0.9);transform-origin:50% 11.4px">极数：</span>1P+N<span style="font-size:17.3px;letter-spacing:1.2px;display:inline-block;transform:scaleY(0.9);transform-origin:50% 11.4px">、</span>2P<span style="font-size:17.3px;letter-spacing:1.2px;display:inline-block;transform:scaleY(0.9);transform-origin:50% 11.4px">、</span>3P<span style="font-size:17.3px;letter-spacing:1.2px;display:inline-block;transform:scaleY(0.9);transform-origin:50% 11.4px">、</span>3P+N<span style="font-size:17.3px;letter-spacing:1.2px;display:inline-block;transform:scaleY(0.9);transform-origin:50% 11.4px">、</span>4P<span style="font-size:17.3px;letter-spacing:1.2px;display:inline-block;transform:scaleY(0.9);transform-origin:50% 11.4px">；</span></div>
<div class="t" id="p5" style="left:7.60px;top:673.36px;font-size:18px;letter-spacing:0.596px;"><span style="font-size:17.3px;letter-spacing:0.9px;display:inline-block;transform:scaleY(0.9);transform-origin:50% 11.4px">瞬时脱扣形式</span><span style="margin:0 -5px 0 0px"><span style="font-size:17.3px;letter-spacing:0.9px;display:inline-block;transform:scaleY(0.9);transform-origin:50% 11.4px">：</span></span>C<span style="font-size:17.3px;letter-spacing:0.9px;display:inline-block;transform:scaleY(0.9);transform-origin:50% 11.4px">型（</span><span style="margin:0 4.5px 0 9px">&gt;</span>5In<span style="margin:0 3.5px 0 3.5px">~</span>10In<span style="margin:0 0px 0 2px"><span style="font-size:17.3px;letter-spacing:0.9px;display:inline-block;transform:scaleY(0.9);transform-origin:50% 11.4px">）</span></span><span style="margin:0 -4px 0 1.35px"><span style="font-size:17.3px;letter-spacing:0.9px;display:inline-block;transform:scaleY(0.9);transform-origin:50% 11.4px">、</span></span>D<span style="font-size:17.3px;letter-spacing:0.9px;display:inline-block;transform:scaleY(0.9);transform-origin:50% 11.4px">型</span><span style="margin:0 0px 0 -2px"><span style="font-size:17.3px;letter-spacing:0.9px;display:inline-block;transform:scaleY(0.9);transform-origin:50% 11.4px">（</span></span><span style="margin:0 3px 0 7px">&gt;</span>10In<span style="margin:0 0.8px 0 1.5px">~</span>20In<span style="margin:0 0px 0 5.3px"><span style="font-size:17.3px;letter-spacing:0.9px;display:inline-block;transform:scaleY(0.9);transform-origin:50% 11.4px">）</span></span><span style="margin:0 0px 0 -2.2px"><span style="font-size:17.3px;letter-spacing:0.9px;display:inline-block;transform:scaleY(0.9);transform-origin:50% 11.4px">；</span></span></div>
<div class="t" id="p6" style="left:7.80px;top:698.36px;font-size:18px;letter-spacing:0.534px;"><span style="font-size:17.3px;letter-spacing:1.35px;display:inline-block;transform:scaleY(0.9);transform-origin:50% 11.4px">额定冲击耐受电压</span>Uimp<span style="font-size:17.3px;letter-spacing:1.35px;display:inline-block;transform:scaleY(0.9);transform-origin:50% 11.4px">：</span>6kV<span style="font-size:17.3px;letter-spacing:1.35px;display:inline-block;transform:scaleY(0.9);transform-origin:50% 11.4px">；</span></div>
<div class="t" id="p7" style="left:7.80px;top:723.36px;font-size:18px;letter-spacing:0.729px;"><span style="font-size:17.3px;letter-spacing:1.1px;display:inline-block;transform:scaleY(0.9);transform-origin:50% 11.4px">额定短路能力</span>Icn<span style="font-size:17.3px;letter-spacing:1.1px;display:inline-block;transform:scaleY(0.9);transform-origin:50% 11.4px">：</span>4500A</div>
<div class="t h" id="h4" style="left:8.00px;top:783.73px;font-size:20.5px;letter-spacing:2.800px;">外形及安装尺寸</div>
<div class="rule" style="top:814.60px"></div>
<div class="t c" id="th0" style="left:-34.50px;width:200px;top:1193.51px;font-size:18px;letter-spacing:3.2px;text-indent:3.2px"><span style="display:inline-block;transform:scaleY(0.9);transform-origin:50% 11.4px">极数</span></div>
<div class="t c" id="th1" style="left:87.50px;width:200px;top:1192.81px;font-size:18.6px;letter-spacing:1.3px;text-indent:1.3px">1P+N</div>
<div class="t c" id="th2" style="left:201.25px;width:200px;top:1192.81px;font-size:18.6px;letter-spacing:1.3px;text-indent:1.3px">2P</div>
<div class="t c" id="th3" style="left:302.25px;width:200px;top:1192.81px;font-size:18.6px;letter-spacing:1.3px;text-indent:1.3px">3P</div>
<div class="t c" id="th4" style="left:417.25px;width:200px;top:1192.81px;font-size:18.6px;letter-spacing:1.3px;text-indent:1.3px">3P+N</div>
<div class="t c" id="th5" style="left:536.75px;width:200px;top:1192.81px;font-size:18.6px;letter-spacing:1.3px;text-indent:1.3px">4P</div>
<div class="t c" id="r10" style="left:87.50px;width:200px;top:1226.41px;font-size:18.6px;letter-spacing:1.0px;text-indent:1.0px">45</div>
<div class="t c" id="r11" style="left:201.25px;width:200px;top:1226.41px;font-size:18.6px;letter-spacing:1.0px;text-indent:1.0px">62</div>
<div class="t c" id="r12" style="left:302.25px;width:200px;top:1226.41px;font-size:18.6px;letter-spacing:1.0px;text-indent:1.0px">89</div>
<div class="t c" id="r13" style="left:417.25px;width:200px;top:1226.41px;font-size:18.6px;letter-spacing:1.0px;text-indent:1.0px">98</div>
<div class="t c" id="r14" style="left:536.75px;width:200px;top:1226.41px;font-size:18.6px;letter-spacing:1.0px;text-indent:1.0px">116</div>
<div class="t c" id="r20" style="left:87.50px;width:200px;top:1257.41px;font-size:18.6px;letter-spacing:1.0px;text-indent:1.0px">54</div>
<div class="t c" id="r21" style="left:201.25px;width:200px;top:1257.41px;font-size:18.6px;letter-spacing:1.0px;text-indent:1.0px">72</div>
<div class="t c" id="r22" style="left:302.25px;width:200px;top:1257.41px;font-size:18.6px;letter-spacing:1.0px;text-indent:1.0px">102</div>
<div class="t c" id="r23" style="left:417.25px;width:200px;top:1257.41px;font-size:18.6px;letter-spacing:1.0px;text-indent:1.0px">116</div>
<div class="t c" id="r24" style="left:536.75px;width:200px;top:1257.41px;font-size:18.6px;letter-spacing:1.0px;text-indent:1.0px">133</div>
<div class="t c" id="tl" style="left:-76.50px;width:200px;top:1242.22px;font-size:18.8px;letter-spacing:0px;text-indent:0px">L</div>
<div class="t c" id="t32" style="left:-20.20px;width:200px;top:1226.38px;font-size:16px;letter-spacing:0.5px;text-indent:0.5px">32A<span style="font-size:14.5px;letter-spacing:2.3px;margin-left:1px;display:inline-block;transform:scaleY(0.97);transform-origin:50% 11.4px">及以下</span></div>
<div class="t c" id="t40" style="left:-20.20px;width:200px;top:1257.98px;font-size:16px;letter-spacing:0.5px;text-indent:0.5px">40A<span style="font-size:14.5px;letter-spacing:2.3px;margin-left:1px;display:inline-block;transform:scaleY(0.97);transform-origin:50% 11.4px">及以上</span></div>
</body>
</html>
